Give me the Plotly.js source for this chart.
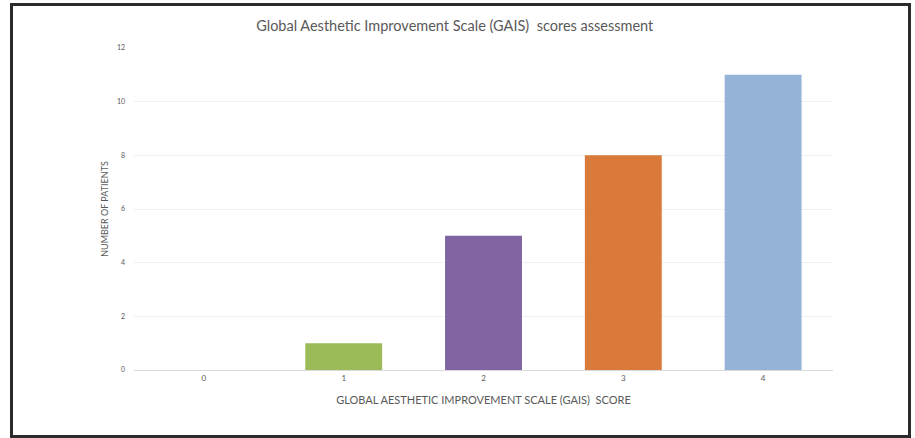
<!DOCTYPE html>
<html>
<head>
<meta charset="utf-8">
<script src="https://cdn.plot.ly/plotly-3.0.1.min.js"></script>
<style>
html,body{margin:0;padding:0;background:#fff;}
#chart{width:915px;height:438px;position:absolute;left:0;top:0;}
#frame{position:absolute;left:10px;top:3px;width:895px;height:429px;border:3px solid #2b2b2b;pointer-events:none;}
</style>
</head>
<body>
<div id="chart"></div>
<div id="frame"></div>
<script>
const categories = ["0", "1", "2", "3", "4"];
const patients = [0, 1, 5, 8, 11];
const barColors = ["#9BBB59", "#9BBB59", "#8064A2", "#D97A3A", "#95B3D7"];
const yTicks = [0, 2, 4, 6, 8, 10, 12];

const trace = {
  type: "bar",
  x: categories,
  y: patients,
  marker: {color: barColors},
  hoverinfo: "skip"
};

const layout = {
  width: 915,
  height: 438,
  margin: {l: 134, r: 82, t: 48, b: 68},
  paper_bgcolor: "#ffffff",
  plot_bgcolor: "#ffffff",
  bargap: 0.45,
  showlegend: false,
  font: {family: "Lato, 'Open Sans', sans-serif", color: "#595959"},
  title: {
    text: "Global Aesthetic Improvement Scale (GAIS)  scores assessment",
    font: {size: 14.5, color: "#595959"},
    x: 0.497, xanchor: "center", y: 0.94, yanchor: "middle"
  },
  xaxis: {
    type: "category",
    showgrid: false,
    showline: true,
    linecolor: "#d9d9d9",
    linewidth: 1,
    ticks: "",
    tickfont: {size: 8, color: "#595959"},
    title: {text: "GLOBAL AESTHETIC IMPROVEMENT SCALE (GAIS)  SCORE", font: {size: 11, color: "#595959"}, standoff: 14}
  },
  yaxis: {
    range: [0, 12],
    tickvals: yTicks,
    showgrid: true,
    gridcolor: "#f0f0f0",
    zeroline: false,
    showline: false,
    ticks: "",
    ticklabelstandoff: 8,
    tickfont: {size: 7, color: "#595959"},
    title: {text: "NUMBER OF PATIENTS", font: {size: 9, color: "#595959"}, standoff: 6}
  }
};

Plotly.newPlot("chart", [trace], layout, {displayModeBar: false, staticPlot: true});
</script>
</body>
</html>
